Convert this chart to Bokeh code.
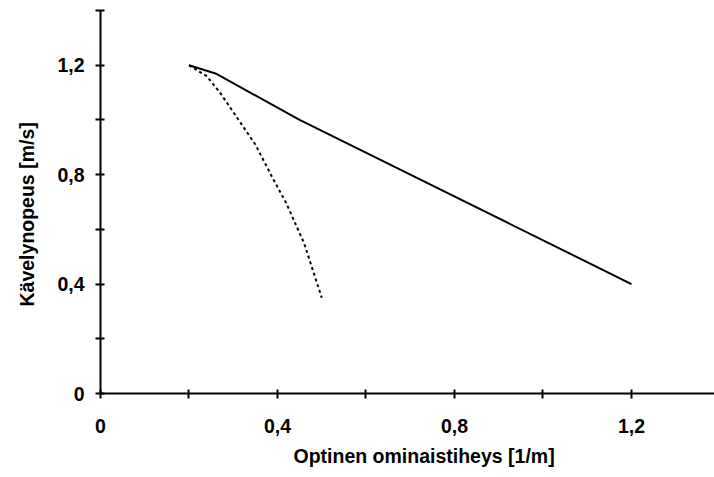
from bokeh.plotting import figure
from bokeh.models import FixedTicker, Range1d, Title
from bokeh.embed import file_html
from bokeh.resources import INLINE

# Data
solid_x = [0.20, 0.26, 0.45, 1.20]
solid_y = [1.20, 1.17, 1.00, 0.40]
dotted_x = [0.20, 0.24, 0.27, 0.31, 0.35, 0.385, 0.42, 0.46, 0.50]
dotted_y = [1.20, 1.16, 1.10, 1.005, 0.91, 0.80, 0.695, 0.55, 0.35]

major_ticks = [0, 0.4, 0.8, 1.2]
minor_x = [0.2, 0.6, 1.0]
minor_y = [0.2, 0.6, 1.0, 1.4]
tick_labels = ["0", "0,4", "0,8", "1,2"]
x_title = "Optinen ominaistiheys [1/m]"
y_title = "Kävelynopeus [m/s]"

FONT = "Liberation Sans"
FS = "19.5px"

p = figure(width=714, height=477, output_backend="svg", toolbar_location=None,
           x_range=Range1d(0, 1.3876), y_range=Range1d(0, 1.4),
           min_border_left=99, min_border_right=0, min_border_top=10, min_border_bottom=84)
p.outline_line_color = None
p.xgrid.visible = False
p.ygrid.visible = False
p.background_fill_color = "white"
p.border_fill_color = "white"

overrides = {t: l for t, l in zip(major_ticks, tick_labels)}
for ax, minors in ((p.xaxis[0], minor_x), (p.yaxis[0], minor_y)):
    ax.ticker = FixedTicker(ticks=major_ticks, minor_ticks=minors)
    ax.major_label_overrides = overrides
    ax.axis_line_width = 2
    ax.axis_line_color = "black"
    ax.major_tick_line_width = 2
    ax.minor_tick_line_width = 2
    ax.major_tick_line_color = "black"
    ax.minor_tick_line_color = "black"
    ax.major_tick_in = 4
    ax.major_tick_out = 5
    ax.minor_tick_in = 4
    ax.minor_tick_out = 5
    ax.major_label_text_font = FONT
    ax.major_label_text_font_style = "bold"
    ax.major_label_text_font_size = FS
    ax.major_label_text_color = "black"

p.xaxis[0].major_label_standoff = 20
p.yaxis[0].major_label_standoff = 11

p.line(solid_x, solid_y, line_color="black", line_width=2)
p.line(dotted_x, dotted_y, line_color="black", line_width=2, line_dash="3 3")

p.add_layout(Title(text=x_title, align="left", offset=193, vertical_align="bottom", standoff=14,
                   text_font=FONT, text_font_style="bold", text_font_size=FS, text_color="black"),
             "below")
p.add_layout(Title(text=y_title, align="left", offset=87, vertical_align="top", standoff=30,
                   text_font=FONT, text_font_style="bold", text_font_size=FS, text_color="black"),
             "left")

open("out.html", "w").write(file_html(p, INLINE))
